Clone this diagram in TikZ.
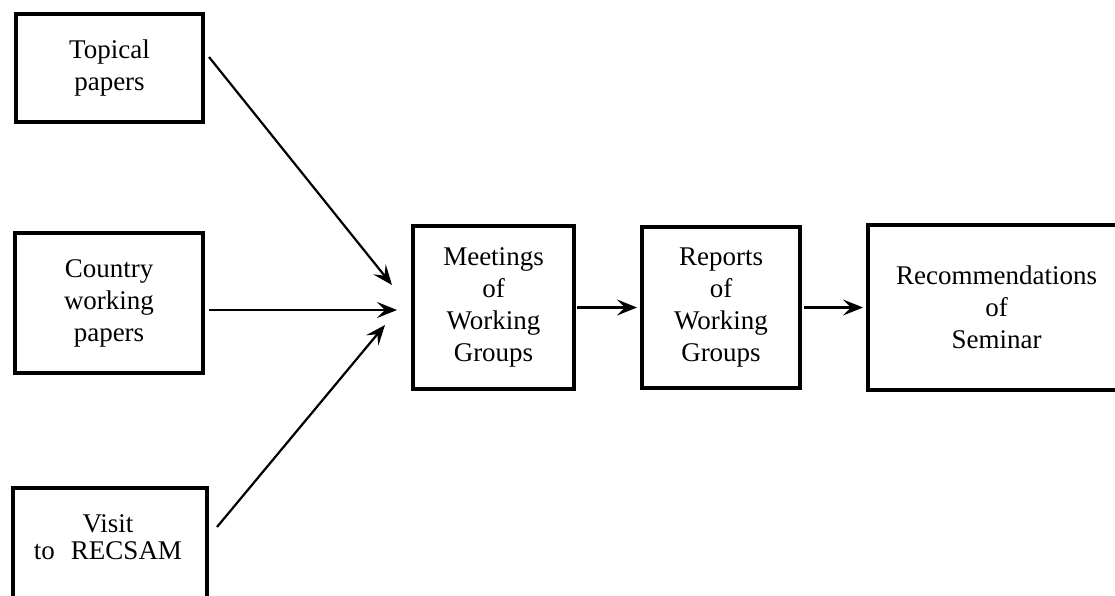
\documentclass[tikz,border=0pt]{standalone}
\usepackage{fontspec}
\setmainfont{Liberation Serif}
\usetikzlibrary{arrows.meta}

\tikzset{
  block/.style={draw, line width=3.2pt, rectangle, align=center,
    inner sep=0pt, outer sep=0pt,
    font=\fontsize{27}{32}\selectfont},
  caption/.style={align=center, inner sep=0pt,
    font=\fontsize{27}{27}\selectfont},
  flow/.style={line width=2.2pt,
    -{Stealth[length=20pt,width=16pt,inset=8pt]}}
}

\begin{document}
\begin{tikzpicture}[x=1pt,y=-1pt]
  \useasboundingbox (0,0) rectangle (1115,595);
  \clip (0,0) rectangle (1115,595);

  % source boxes on the left
  \node[block, minimum width=187pt, minimum height=108pt] (topical)
    at (109.5,68) {Topical\\papers};
  \node[block, minimum width=188pt, minimum height=140pt] (country)
    at (109,303) {Country\\working\\papers};
  \node[block, minimum width=194pt, minimum height=112pt] (visit)
    at (110,544) {};
  \node[caption] (visittext) at (108,537) {Visit\\to\hspace{16pt}RECSAM};

  % main chain
  \node[block, minimum width=161pt, minimum height=163pt] (meet)
    at (493.5,307.5) {Meetings\\of\\Working\\Groups};
  \node[block, minimum width=158pt, minimum height=161pt] (reports)
    at (721,307.5) {Reports\\of\\Working\\Groups};
  \node[block, minimum width=257pt, minimum height=165pt] (recs)
    at (996.5,307.5) {Recommendations\\of\\Seminar};

  % converging arrows
  \draw[flow] ([shift={(6,-11)}]topical.east) -- ([shift={(-21,-22.5)}]meet.west);
  \draw[flow] ([shift={(6,7)}]country.east) -- ([shift={(-16,2.5)}]meet.west);
  \draw[flow] ([shift={(10,-17)}]visit.east) -- ([shift={(-28,17.5)}]meet.west);

  % chain arrows
  \draw[flow, shorten <=3pt, shorten >=5pt] (meet.east) -- (reports.west);
  \draw[flow, shorten <=4pt, shorten >=5pt] (reports.east) -- (recs.west);
\end{tikzpicture}
\end{document}
